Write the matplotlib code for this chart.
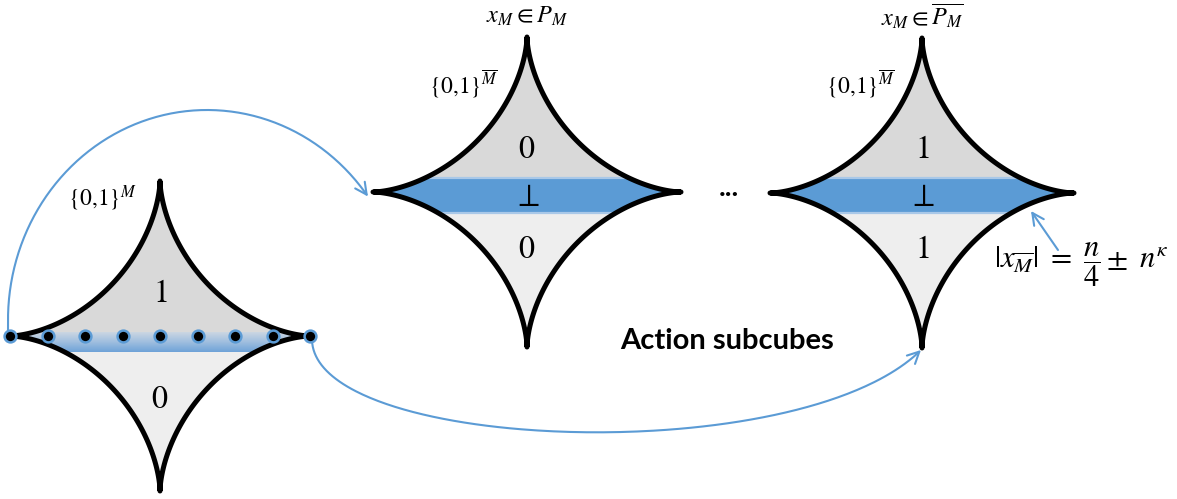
import numpy as np
import matplotlib.pyplot as plt
from matplotlib.patches import Polygon, Rectangle, FancyArrowPatch
from matplotlib.path import Path
from matplotlib.colors import LinearSegmentedColormap

plt.rcParams['mathtext.fontset'] = 'stix'

BLUE = '#5B9BD5'
LIGHT_BLUE = '#A9C8E8'
UPPER = '#D9D9D9'
LOWER = '#EEEEEE'

# subcubes: centre x, centre y, half width, half height
cube_x = [160, 527, 922]
cube_y = [336, 192, 193]
cube_a = [150, 154, 152]
cube_b = [155, 155, 155]
upper_labels = [r'$1$', r'$0$', r'$1$']
lower_labels = [r'$0$', r'$0$', r'$1$']
mid_labels = ['', r'$\perp$', r'$\perp$']
band_top = [332, 178, 178]
band_bottom = [352, 213, 213]
cube_titles = ['', r'$x_M \in P_M$', r'$x_M \in \overline{P_M}$']
space_labels = [r'$\{0{,}1\}^M$', r'$\{0{,}1\}^{\overline{M}}$', r'$\{0{,}1\}^{\overline{M}}$']
space_label_x = [102, 463, 860]
space_label_y = [198, 84, 84]
n_dots = 9

fig = plt.figure(figsize=(11.77, 4.99), dpi=100)
ax = fig.add_axes([0, 0, 1, 1])


def astroid(cx, cy, a, b, p=0.62, n=1200):
    t = np.linspace(0, 2 * np.pi, n)
    c, s = np.cos(t), np.sin(t)
    x = cx + a * np.sign(c) * np.abs(c) ** (2 / p)
    y = cy + b * np.sign(s) * np.abs(s) ** (2 / p)
    return np.column_stack([x, y])


for i in range(3):
    cx, cy, a, b = cube_x[i], cube_y[i], cube_a[i], cube_b[i]
    pts = astroid(cx, cy, a, b)
    clip = Polygon(pts, closed=True, fc='none', ec='none', transform=ax.transData)
    ax.add_patch(clip)

    r = Rectangle((cx - a, cy - b), 2 * a, band_top[i] - (cy - b), fc=UPPER, ec='none', zorder=1)
    ax.add_patch(r)
    r.set_clip_path(clip)
    r = Rectangle((cx - a, band_bottom[i]), 2 * a, cy + b - band_bottom[i], fc=LOWER, ec='none', zorder=1)
    ax.add_patch(r)
    r.set_clip_path(clip)

    if i == 0:
        grad = np.linspace(0, 1, 50)[:, None] * np.ones((1, 2))
        cmap = LinearSegmentedColormap.from_list('g', ['#CBD6E2', '#9FBEDF', '#6FA3D8'])
        im = ax.imshow(grad, cmap=cmap, aspect='auto', origin='upper',
                       extent=[cx - a, cx + a, band_bottom[i], band_top[i]], zorder=2,
                       interpolation='bilinear')
        im.set_clip_path(clip)
    else:
        r = Rectangle((cx - a, band_top[i]), 2 * a, band_bottom[i] - band_top[i], fc=BLUE, ec='none', zorder=2)
        ax.add_patch(r)
        r.set_clip_path(clip)
        for yy in (band_top[i], band_bottom[i]):
            ln, = ax.plot([cx - a, cx + a], [yy, yy], color=LIGHT_BLUE, lw=1.6, zorder=3)
            ln.set_clip_path(clip)

    ax.add_patch(Polygon(pts, closed=True, fill=False, ec='black', lw=3.6,
                         joinstyle='round', capstyle='round', zorder=5))

    ax.text(cx, cy - 42 if i == 0 else 150, upper_labels[i], fontsize=23, ha='center', va='center', zorder=6)
    ax.text(cx, cy + 64 if i == 0 else 250, lower_labels[i], fontsize=23, ha='center', va='center', zorder=6)
    if mid_labels[i]:
        ax.text(cx, 198, mid_labels[i], fontsize=23, ha='center', va='center', zorder=6)
    if cube_titles[i]:
        ax.text(cx, 16, cube_titles[i], fontsize=17.5, ha='center', va='center')
    ax.text(space_label_x[i], space_label_y[i], space_labels[i], fontsize=17, ha='center', va='center')

# points on the left cube
dot_x = np.linspace(cube_x[0] - cube_a[0], cube_x[0] + cube_a[0], n_dots)
ax.plot(dot_x, [cube_y[0]] * n_dots, 'o', ms=8.5, mfc='black', mec=BLUE, mew=1.8, zorder=7)

# curved arrows
th = np.linspace(np.pi, np.radians(36), 200)
arc1 = np.column_stack([207 + 199 * np.cos(th), 320 - 210 * np.sin(th)])
arc1 = np.vstack([[8, 336], arc1])
ax.add_patch(FancyArrowPatch(path=Path(arc1), arrowstyle='->,head_length=0.6,head_width=0.3',
                             color=BLUE, lw=1.5, mutation_scale=14, zorder=4))

P = np.array([[312, 340], [315, 452], [800, 470], [921, 350]])
t = np.linspace(0, 1, 200)[:, None]
arc2 = ((1 - t) ** 3 * P[0] + 3 * (1 - t) ** 2 * t * P[1] + 3 * (1 - t) * t ** 2 * P[2] + t ** 3 * P[3])
ax.add_patch(FancyArrowPatch(path=Path(arc2), arrowstyle='->,head_length=0.6,head_width=0.3',
                             color=BLUE, lw=1.5, mutation_scale=14, zorder=4))

ax.annotate('', xy=(1031, 211), xytext=(1058, 250),
            arrowprops=dict(arrowstyle='->,head_length=0.6,head_width=0.3', color=BLUE, lw=1.5,
                            mutation_scale=14, shrinkA=0, shrinkB=0))

ax.text(1081, 265, r'$|x_{\overline{M}}|\ =\ \dfrac{n}{4} \pm\ n^{\kappa}$', fontsize=22,
        ha='center', va='center')

ax.text(729, 188, '...', fontsize=20, fontweight='bold', family='Lato', ha='center', va='center')
ax.text(727, 341, 'Action subcubes', fontsize=21, fontweight='bold', family='Lato',
        ha='center', va='center')

ax.set_xlim(0, 1177)
ax.set_ylim(499, 0)
ax.axis('off')
fig.savefig('out.png', dpi=100)
